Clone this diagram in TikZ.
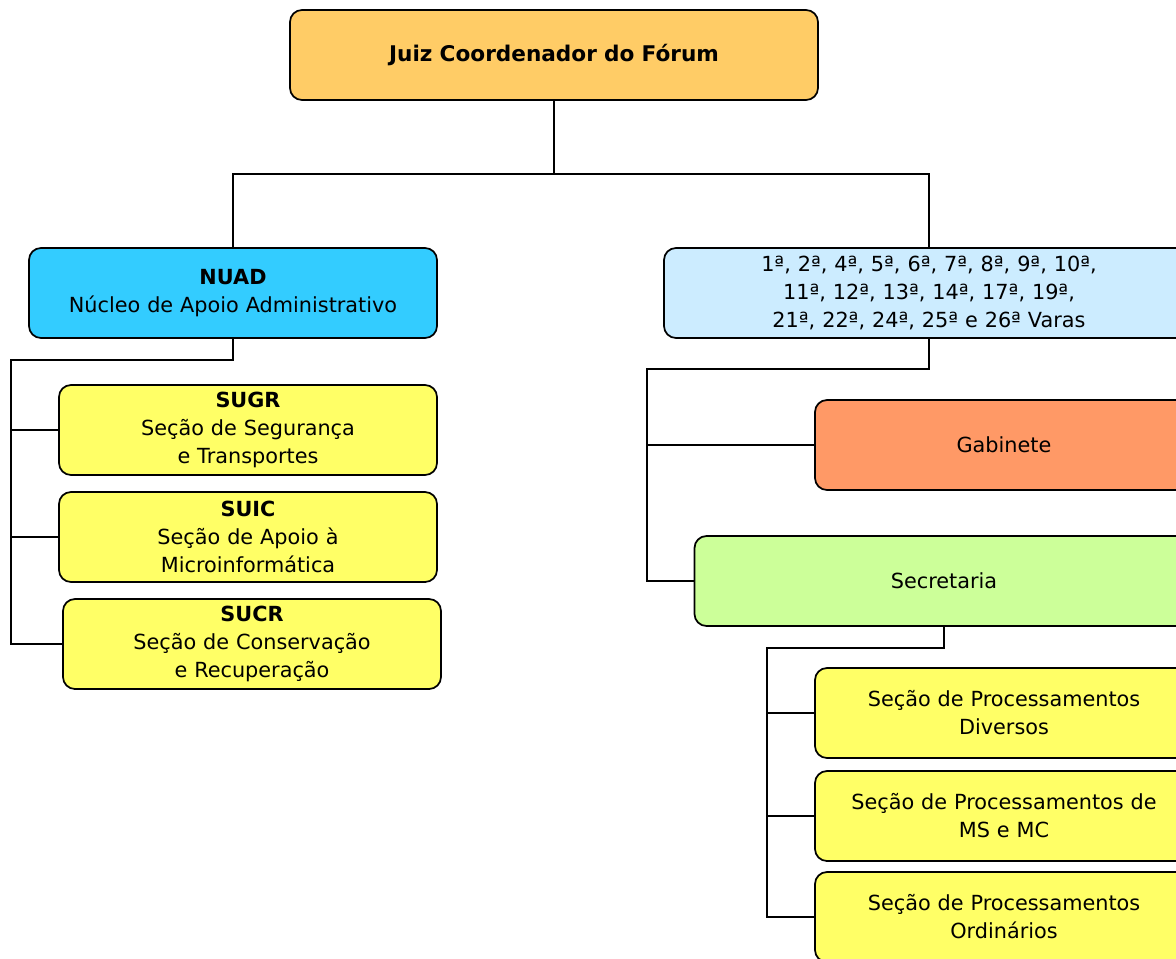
\documentclass[tikz,border=0pt]{standalone}
\usepackage{fontspec}
\setmainfont{DejaVu Sans}
\definecolor{juizfill}{HTML}{FFCC66}
\definecolor{nuadfill}{HTML}{33CCFF}
\definecolor{varasfill}{HTML}{CCECFF}
\definecolor{secaofill}{HTML}{FFFF66}
\definecolor{gabfill}{HTML}{FF9966}
\definecolor{secfill}{HTML}{CCFF99}

\begin{document}
\begin{tikzpicture}[x=0.75pt, y=-0.75pt,
    box/.style={draw, line width=1.3pt, rounded corners=9pt, minimum height=67.5pt,
      inner sep=0pt, align=center, font=\fontsize{15.6}{21}\selectfont},
    secao/.style={box, fill=secaofill, text width=283.5pt},
    link/.style={line width=1.3pt}]
        \useasboundingbox (0,0) rectangle (1176,958);
        \clip (0,0) rectangle (1176,958);
        % top
        \node[box, fill=juizfill, text width=396pt, font=\fontsize{16.2}{21}\selectfont] (juiz) at (554,55) {\textbf{Juiz Coordenador do Fórum}};
        \node[box, fill=nuadfill, text width=306pt] (nuad) at (233,293) {\textbf{NUAD}\\Núcleo de Apoio Administrativo};
        \node[box, fill=varasfill, text width=397.5pt] (varas) at (929,293) {1ª, 2ª, 4ª, 5ª, 6ª, 7ª, 8ª, 9ª, 10ª,\\11ª, 12ª, 13ª, 14ª, 17ª, 19ª,\\21ª, 22ª, 24ª, 25ª e 26ª Varas};
        % NUAD
        \node[secao] (sugr) at (248,430) {\textbf{SUGR}\\Seção de Segurança\\e Transportes};
        \node[secao] (suic) at (248,537) {\textbf{SUIC}\\Seção de Apoio à\\Microinformática};
        \node[secao] (sucr) at (252,644) {\textbf{SUCR}\\Seção de Conservação\\e Recuperação};
        % varas
        \node[box, fill=gabfill, text width=283.5pt] (gab) at (1004,445) {Gabinete};
        \node[box, fill=secfill, text width=374.25pt] (secr) at (944,581) {Secretaria};
        \node[secao] (spd) at (1004,713) {Seção de Processamentos\\Diversos};
        \node[secao] (spms) at (1004,816) {Seção de Processamentos de\\MS e MC};
        \node[secao] (spo) at (1004,917) {Seção de Processamentos\\Ordinários};
        % connectors
        \coordinate (topbus) at (554,174);
        \coordinate (nuadbus) at (11,360);
        \coordinate (varasbus) at (647,369);
        \coordinate (secrbus) at (767,648);
        \draw[link] (juiz.south) -- (topbus) -| (nuad.north);
        \draw[link] (topbus) -| (varas.north);
        \draw[link] (nuad.south) |- (nuadbus) |- (sugr.west);
        \draw[link] (nuadbus) |- (suic.west);
        \draw[link] (nuadbus) |- (sucr.west);
        \draw[link] (varas.south) |- (varasbus) |- (gab.west);
        \draw[link] (varasbus) |- (secr.west);
        \draw[link] (secr.south) |- (secrbus) |- (spd.west);
        \draw[link] (secrbus) |- (spms.west);
        \draw[link] (secrbus) |- (spo.west);
      \end{tikzpicture}
\end{document}
